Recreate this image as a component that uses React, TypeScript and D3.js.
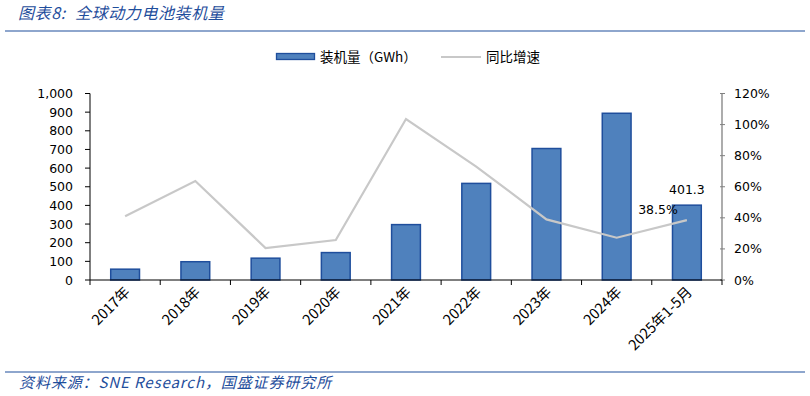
import React from "react";
import * as d3 from "d3";

const categories = ["2017年", "2018年", "2019年", "2020年", "2021年", "2022年", "2023年", "2024年", "2025年1-5月"];
const installed = [58, 98, 117, 147, 297, 518, 705, 894, 401.3];
const growth = [0.41, 0.637, 0.206, 0.257, 1.036, 0.73, 0.39, 0.272, 0.385];
const leftTicks = [0, 100, 200, 300, 400, 500, 600, 700, 800, 900, 1000];
const rightTicks = [0, 0.2, 0.4, 0.6, 0.8, 1.0, 1.2];

const W = 810, H = 396;
const plot = { left: 90, right: 722, top: 93.5, bottom: 280 };
const font = "'DejaVu Sans', Verdana, sans-serif";
const cjk = "'Noto Sans CJK SC', sans-serif";

export default function App() {
  const x = d3.scaleBand<string>().domain(categories).range([plot.left, plot.right]).paddingInner(0.59).paddingOuter(0.295);
  const band = d3.scaleBand<string>().domain(categories).range([plot.left, plot.right]);
  const yL = d3.scaleLinear().domain([0, 1000]).range([plot.bottom, plot.top]);
  const yR = d3.scaleLinear().domain([0, 1.2]).range([plot.bottom, plot.top]);
  const cx = (c: string) => (band(c) as number) + band.bandwidth() / 2;
  const line = d3.line<number>().x((_, i) => cx(categories[i])).y((d) => yR(d));
  const fmt = d3.format(",");
  const last = categories.length - 1;
  const boundaries = d3.range(categories.length + 1).map((i) => plot.left + i * band.bandwidth());

  return (
    <svg width={W} height={H} style={{ position: "absolute", left: 0, top: 0, background: "#fff" }}>
      {/* title */}
      <text x={18} y={19} fill="#1F4E9C" fontSize={16} fontStyle="italic" fontFamily={cjk} letterSpacing={0.6}>图表8:</text>
      <text x={75} y={19} fill="#1F4E9C" fontSize={16} fontStyle="italic" fontFamily={cjk} letterSpacing={0.6}>全球动力电池装机量</text>
      <line x1={5} x2={805} y1={31} y2={31} stroke="#1F4E9C" strokeWidth={1.2} />

      {/* legend */}
      <rect x={276.5} y={53.5} width={38} height={6} fill="#4F81BD" stroke="#1F4E9C" strokeWidth={1.3} />
      <text x={320} y={61.5} fontSize={13.5} fontFamily={cjk} fill="#000">装机量（GWh）</text>
      <line x1={441} x2={481} y1={57} y2={57} stroke="#C8C8C8" strokeWidth={2} />
      <text x={486} y={61.5} fontSize={13.5} fontFamily={cjk} fill="#000">同比增速</text>

      {/* bars */}
      {categories.map((c, i) => (
        <rect key={c} x={x(c)} y={yL(installed[i])} width={x.bandwidth()} height={plot.bottom - yL(installed[i])}
          fill="#4F81BD" stroke="#1F4E9C" strokeWidth={1.5} />
      ))}

      {/* growth line */}
      <path d={line(growth) || ""} fill="none" stroke="#C8C8C8" strokeWidth={2.2} />

      {/* left axis */}
      <line x1={plot.left} x2={plot.left} y1={plot.top} y2={plot.bottom} stroke="#000" />
      {leftTicks.map((t) => (
        <g key={t}>
          <line x1={plot.left - 5} x2={plot.left} y1={yL(t)} y2={yL(t)} stroke="#000" />
          <text x={plot.left - 17} y={yL(t) + 4.5} textAnchor="end" fontSize={12.5} fontFamily={font} fill="#000">{fmt(t)}</text>
        </g>
      ))}

      {/* right axis */}
      <line x1={plot.right} x2={plot.right} y1={plot.top} y2={plot.bottom} stroke="#808080" strokeWidth={1.3} />
      {rightTicks.map((t) => (
        <g key={t}>
          <line x1={plot.right - 2} x2={plot.right + 3} y1={yR(t)} y2={yR(t)} stroke="#808080" />
          <text x={plot.right + 12} y={yR(t) + 4.5} textAnchor="start" fontSize={12.5} fontFamily={font} fill="#000">{d3.format(".0%")(t)}</text>
        </g>
      ))}

      {/* bottom axis */}
      <line x1={plot.left} x2={plot.right} y1={plot.bottom} y2={plot.bottom} stroke="#000" />
      {boundaries.map((b, i) => (
        <line key={i} x1={b} x2={b} y1={plot.bottom} y2={plot.bottom + 5} stroke="#000" />
      ))}
      {categories.map((c) => (
        <text key={c} transform={`translate(${cx(c) + 6},${plot.bottom + 13}) rotate(-45)`} textAnchor="end"
          fontSize={14.5} fontFamily={cjk} fill="#000">{c}</text>
      ))}

      {/* data labels */}
      <text x={cx(categories[last])} y={yL(installed[last]) - 11} textAnchor="middle" fontSize={12.5} fontFamily={font} fill="#000">{installed[last].toFixed(1)}</text>
      <text x={cx(categories[last]) - 9} y={yR(growth[last]) - 6} textAnchor="end" fontSize={12.5} fontFamily={font} fill="#000">{(growth[last] * 100).toFixed(1)}%</text>

      {/* footer */}
      <line x1={5} x2={805} y1={372} y2={372} stroke="#1F4E9C" strokeWidth={1.2} />
      <text x={19} y={388} fill="#1F4E9C" fontSize={15} fontStyle="italic" fontFamily={cjk} letterSpacing={0.9}>资料来源：SNE Research，国盛证券研究所</text>
    </svg>
  );
}
